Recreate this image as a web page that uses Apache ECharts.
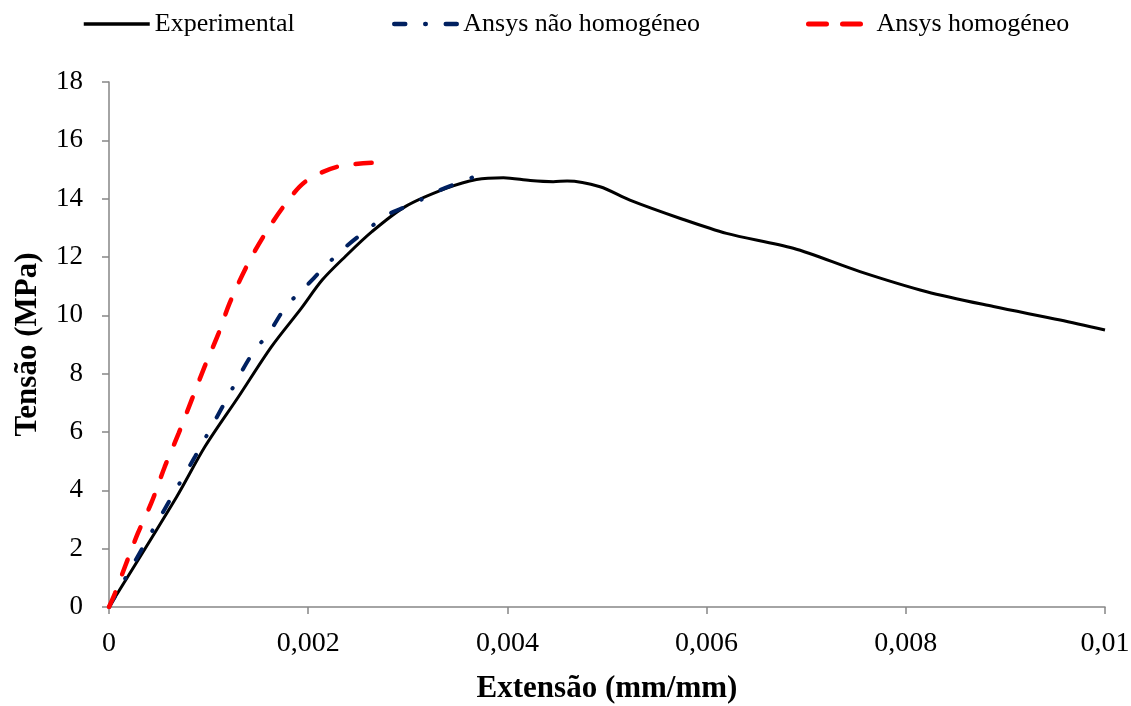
<!DOCTYPE html>
<html>
<head>
<meta charset="utf-8">
<script src="https://cdn.jsdelivr.net/npm/echarts@6/dist/echarts.min.js"></script>
<style>html,body{margin:0;padding:0;background:#fff}#c{width:1131px;height:706px}</style>
</head>
<body>
<div id="c"></div>
<script>
const seriesNames = ["Experimental", "Ansys não homogéneo", "Ansys homogéneo"];
const xTickLabels = ["0", "0,002", "0,004", "0,006", "0,008", "0,01"];

const expStrain = [0, 0.00068, 0.000964, 0.0013, 0.00163, 0.00193, 0.00214, 0.00237, 0.00264, 0.00297, 0.00339, 0.00369, 0.00396, 0.00423, 0.00446, 0.0046, 0.00493, 0.00523, 0.00573, 0.0062, 0.00687, 0.00754, 0.00821, 0.00888, 0.00955, 0.01];
const expStress = [0, 3.78, 5.50, 7.21, 8.92, 10.24, 11.21, 12.01, 12.87, 13.72, 14.36, 14.66, 14.72, 14.62, 14.58, 14.61, 14.41, 13.95, 13.33, 12.81, 12.30, 11.50, 10.81, 10.30, 9.84, 9.50];

const nhStrain = [0, 0.00063, 0.000863, 0.00115, 0.00143, 0.00161, 0.00178, 0.00196, 0.00215, 0.00236, 0.00259, 0.00281, 0.00306, 0.00332, 0.00357, 0.00365];
const nhStress = [0, 3.78, 5.15, 6.93, 8.64, 9.42, 10.32, 10.93, 11.61, 12.30, 12.93, 13.47, 13.84, 14.29, 14.62, 14.73];

const hStrain = [0, 0.00006, 0.00016, 0.00029, 0.00043, 0.00056, 0.0007, 0.00083, 0.00096, 0.0011, 0.00121, 0.00138, 0.00155, 0.00175, 0.00197, 0.0023, 0.00278];
const hStress = [0, 0.47, 1.38, 2.53, 3.61, 4.81, 5.96, 7.10, 8.24, 9.38, 10.41, 11.67, 12.70, 13.72, 14.58, 15.10, 15.25];

const pairs = (xs, ys) => xs.map((x, i) => [x, ys[i]]);
const FONT = "'Liberation Serif', 'Times New Roman', serif";
const AX = '#868686';

const chart = echarts.init(document.getElementById('c'));
const legendBase = {
  top: 6, itemHeight: 20, itemGap: 0,
  itemStyle: { opacity: 0 },
  textStyle: { fontFamily: FONT, fontSize: 26, color: '#000' }
};
chart.setOption({
  animation: false,
  backgroundColor: '#fff',
  legend: [
    Object.assign({}, legendBase, { left: 77, itemWidth: 66, data: [seriesNames[0]],
      lineStyle: { width: 3.5 } }),
    Object.assign({}, legendBase, { left: 387, itemWidth: 64, data: [seriesNames[1]],
      lineStyle: { width: 4.5, type: [11, 20, 0.5, 20], cap: 'round' } }),
    Object.assign({}, legendBase, { left: 801, itemWidth: 63, data: [seriesNames[2]],
      lineStyle: { width: 5, type: [18, 16], cap: 'round' } })
  ],
  grid: { left: 109, right: 26, top: 82, bottom: 99, containLabel: false, outerBoundsMode: 'none' },
  xAxis: {
    type: 'value', min: 0, max: 0.01, interval: 0.002,
    name: 'Extensão (mm/mm)', nameLocation: 'middle', nameGap: 66,
    nameTextStyle: { fontFamily: FONT, fontSize: 31, fontWeight: 'bold', color: '#000' },
    axisLine: { show: true, lineStyle: { color: AX, width: 1.5 } },
    axisTick: { show: true, inside: false, length: 7, lineStyle: { color: AX, width: 1.5 } },
    axisLabel: { margin: 23, fontFamily: FONT, fontSize: 28, color: '#000',
      formatter: v => xTickLabels[Math.round(v / 0.002)] },
    splitLine: { show: false }
  },
  yAxis: {
    type: 'value', min: 0, max: 18, interval: 2,
    name: 'Tensão (MPa)', nameLocation: 'middle', nameGap: 66,
    nameTextStyle: { fontFamily: FONT, fontSize: 31, fontWeight: 'bold', color: '#000' },
    axisLine: { show: true, lineStyle: { color: AX, width: 1.5 } },
    axisTick: { show: true, inside: false, length: 7, lineStyle: { color: AX, width: 1.5 } },
    axisLabel: { margin: 26, fontFamily: FONT, fontSize: 27, color: '#000' },
    splitLine: { show: false }
  },
  series: [
    { name: seriesNames[0], type: 'line', data: pairs(expStrain, expStress), showSymbol: false, symbol: 'none',
      smooth: 0.3, lineStyle: { color: '#000', width: 3 }, itemStyle: { color: '#000' }, z: 3 },
    { name: seriesNames[1], type: 'line', data: pairs(nhStrain, nhStress), showSymbol: false, symbol: 'none',
      smooth: 0.3, lineStyle: { color: '#002060', width: 4, type: [12, 21, 0.5, 21], cap: 'round' }, itemStyle: { color: '#002060' }, z: 4 },
    { name: seriesNames[2], type: 'line', data: pairs(hStrain, hStress), showSymbol: false, symbol: 'none',
      smooth: 0.3, lineStyle: { color: '#ff0000', width: 4.5, type: [16, 19], cap: 'round' }, itemStyle: { color: '#ff0000' }, z: 5 }
  ]
});
</script>
</body>
</html>
